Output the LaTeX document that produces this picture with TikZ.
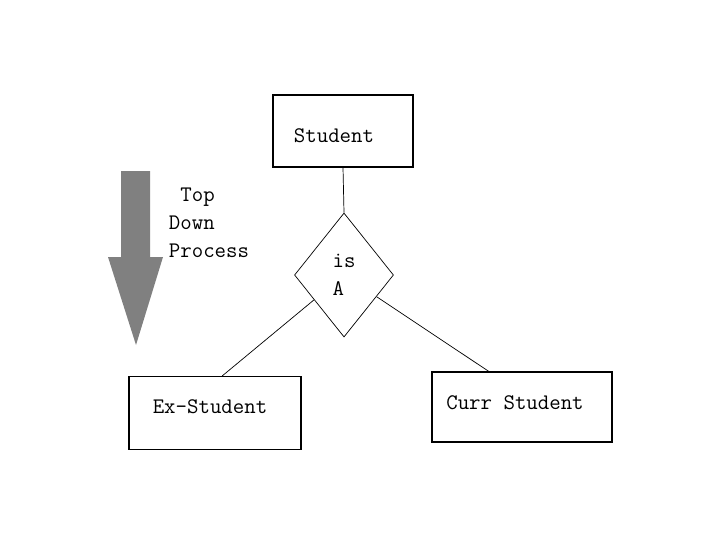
\documentclass[tikz,border=0pt]{standalone}
\usetikzlibrary{shapes.geometric}

\begin{document}
\begin{tikzpicture}[x=0.025cm,y=-0.025cm,
  font=\ttfamily\fontsize{15.8}{20}\selectfont,
  entity/.style={draw,line width=0.8pt,inner sep=0pt},
  relation/.style={draw,diamond,line width=0.5pt,inner sep=0pt,align=left},
  link/.style={line width=0.5pt}]
\useasboundingbox (0,0) rectangle (720,540);
% top down arrow
\fill[black!50] (121,171) -- (150,171) -- (150,257) -- (163,257) -- (136,345) -- (108,257) -- (121,257) -- cycle;
\node[align=left,inner sep=0pt] (topdown) at (209,223) {\ Top\\Down\\Process};
% entities
\node[entity,minimum width=3.5cm,minimum height=1.8cm,
  label={[shift={(-9,5)}]center:Student}] (student) at (343,131) {};
\node[entity,minimum width=4.3cm,minimum height=1.825cm,
  label={[shift={(-5,-6)}]center:Ex-Student}] (exstudent) at (215,413) {};
\node[entity,minimum width=4.5cm,minimum height=1.75cm,
  label={[shift={(-7,-4)}]center:Curr Student}] (currstudent) at (522,407) {};
% relation
\node[relation,minimum width=2.475cm,minimum height=3.1cm] (isa) at (344,275) {is\\A};
\draw[link] (student.south) -- (isa.north);
\draw[link] (isa) -- ([xshift=0.18cm]exstudent.north);
\draw[link] (isa) -- ([xshift=-0.83cm]currstudent.north);
\end{tikzpicture}
\end{document}
